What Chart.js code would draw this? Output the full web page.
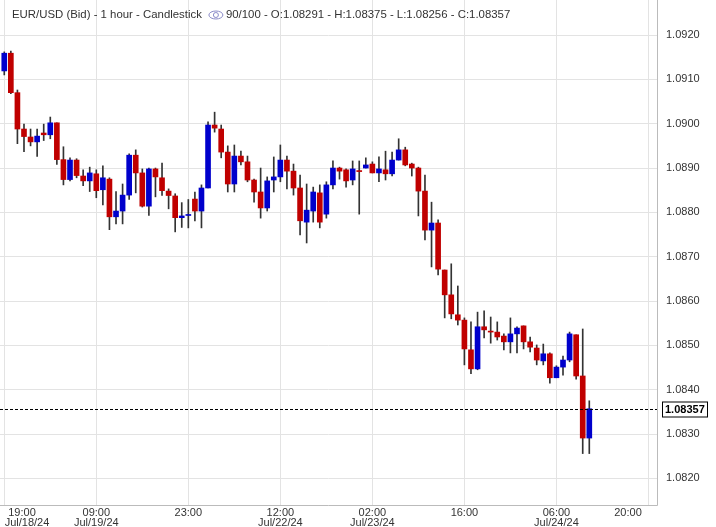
<!DOCTYPE html>
<html><head><meta charset="utf-8">
<script src="https://cdn.jsdelivr.net/npm/chart.js@4.4.1/dist/chart.umd.min.js"></script>
<style>html,body{margin:0;padding:0;background:#fff}#w{width:716px;height:527px}</style>
</head><body><div id="w"><canvas id="c"></canvas></div>
<script>
const openP=[1.09119,1.09159,1.09070,1.08988,1.08970,1.08959,1.08979,1.08975,1.09002,1.08919,1.08874,1.08918,1.08882,1.08871,1.08887,1.08851,1.08875,1.08790,1.08803,1.08839,1.08929,1.08889,1.08814,1.08898,1.08878,1.08848,1.08837,1.08788,1.08793,1.08830,1.08803,1.08855,1.08997,1.08988,1.08936,1.08864,1.08927,1.08914,1.08873,1.08846,1.08810,1.08873,1.08880,1.08918,1.08893,1.08855,1.08778,1.08803,1.08844,1.08796,1.08862,1.08900,1.08896,1.08873,1.08893,1.08900,1.08909,1.08889,1.08896,1.08887,1.08918,1.08941,1.08909,1.08900,1.08848,1.08760,1.08776,1.08670,1.08614,1.08569,1.08557,1.08490,1.08447,1.08542,1.08532,1.08530,1.08521,1.08508,1.08526,1.08544,1.08508,1.08494,1.08465,1.08481,1.08427,1.08451,1.08467,1.08524,1.08431,1.08291];
const highP=[1.09162,1.09164,1.09076,1.08999,1.08988,1.08988,1.08999,1.09015,1.09002,1.08948,1.08923,1.08921,1.08896,1.08902,1.08896,1.08905,1.08878,1.08847,1.08864,1.08932,1.08941,1.08898,1.08900,1.08900,1.08911,1.08853,1.08842,1.08822,1.08829,1.08846,1.08862,1.09004,1.09026,1.08997,1.08950,1.08952,1.08938,1.08927,1.08875,1.08900,1.08880,1.08925,1.08952,1.08927,1.08909,1.08884,1.08864,1.08857,1.08862,1.08869,1.08916,1.08902,1.08898,1.08916,1.08916,1.08923,1.08914,1.08925,1.08938,1.08936,1.08966,1.08947,1.08911,1.08902,1.08884,1.08823,1.08783,1.08670,1.08684,1.08634,1.08562,1.08553,1.08575,1.08578,1.08564,1.08553,1.08526,1.08562,1.08542,1.08544,1.08519,1.08501,1.08503,1.08483,1.08454,1.08476,1.08530,1.08524,1.08537,1.08375];
const lowP=[1.09110,1.09068,1.08955,1.08937,1.08950,1.08926,1.08962,1.08966,1.08908,1.08862,1.08871,1.08878,1.08860,1.08847,1.08833,1.08817,1.08761,1.08774,1.08774,1.08829,1.08844,1.08812,1.08793,1.08835,1.08838,1.08808,1.08756,1.08766,1.08765,1.08781,1.08765,1.08855,1.08981,1.08923,1.08846,1.08846,1.08907,1.08869,1.08823,1.08787,1.08803,1.08846,1.08869,1.08853,1.08839,1.08749,1.08731,1.08778,1.08765,1.08787,1.08853,1.08875,1.08857,1.08862,1.08796,1.08900,1.08889,1.08869,1.08873,1.08882,1.08918,1.08905,1.08882,1.08792,1.08738,1.08677,1.08659,1.08562,1.08560,1.08546,1.08456,1.08436,1.08445,1.08517,1.08505,1.08512,1.08490,1.08483,1.08483,1.08492,1.08485,1.08456,1.08456,1.08415,1.08427,1.08433,1.08463,1.08424,1.08256,1.08256];
const closeP=[1.09159,1.09070,1.08988,1.08971,1.08959,1.08972,1.08975,1.09002,1.08919,1.08874,1.08918,1.08883,1.08871,1.08889,1.08849,1.08878,1.08790,1.08803,1.08839,1.08929,1.08889,1.08814,1.08898,1.08880,1.08849,1.08838,1.08788,1.08792,1.08794,1.08803,1.08855,1.08997,1.08990,1.08936,1.08864,1.08927,1.08914,1.08873,1.08846,1.08810,1.08871,1.08880,1.08918,1.08893,1.08855,1.08781,1.08805,1.08846,1.08778,1.08862,1.08900,1.08893,1.08871,1.08898,1.08892,1.08907,1.08889,1.08898,1.08887,1.08918,1.08941,1.08907,1.08900,1.08848,1.08760,1.08776,1.08672,1.08614,1.08571,1.08557,1.08492,1.08447,1.08542,1.08535,1.08530,1.08519,1.08508,1.08526,1.08539,1.08508,1.08496,1.08467,1.08481,1.08427,1.08451,1.08467,1.08526,1.08431,1.08291,1.08357];
const tickIdx=[0,14,28,42,56,70,84,98];
const tickTime=["19:00","09:00","23:00","12:00","02:00","16:00","06:00","20:00"];
const tickDate=["Jul/18/24","Jul/19/24","","Jul/22/24","Jul/23/24","","Jul/24/24",""];
const lastPrice=1.08357;
const header="EUR/USD (Bid) - 1 hour - Candlestick";
const header2="90/100 - O:1.08291 - H:1.08375 - L:1.08256 - C:1.08357";

const UP='#0000cc',DN='#c00000';
const bodies=openP.map((o,i)=>({x:i,y:[o,closeP[i]]}));
const wicks=lowP.map((l,i)=>({x:i,y:[l,highP[i]]}));
const bodyCol=openP.map((o,i)=>closeP[i]>o?UP:(closeP[i]<o?DN:'#222'));
const FONT='Arial, "Liberation Sans"';

const overlay={id:'ov',afterDatasetsDraw(ch){
  const c=ch.ctx,a=ch.chartArea,y=ch.scales.y,x=ch.scales.x;
  const py=Math.round(y.getPixelForValue(lastPrice))+0.5;
  c.save();
  c.strokeStyle='#000';c.lineWidth=1;c.setLineDash([3,2]);
  c.beginPath();c.moveTo(a.left,py);c.lineTo(a.right,py);c.stroke();c.setLineDash([]);
  c.fillStyle='#fff';c.fillRect(a.right+5,py-8,46,16);
  c.strokeRect(a.right+5.5,py-7.5,45,15);
  c.fillStyle='#000';c.font='bold 11px '+FONT;c.textBaseline='middle';c.textAlign='left';
  c.fillText(lastPrice.toFixed(5),a.right+8,py+0.5);
  c.strokeStyle='#bbb';c.beginPath();c.moveTo(a.right+0.5,0);c.lineTo(a.right+0.5,a.bottom+0.5);c.lineTo(0,a.bottom+0.5);c.stroke();
  c.fillStyle='#333';c.font='11px '+FONT;c.textAlign='center';c.textBaseline='top';
  tickIdx.forEach((t,i)=>{let px=x.getPixelForValue(t);
    c.fillText(tickTime[i],Math.min(628,Math.max(22,px)),a.bottom+2);
    if(tickDate[i])c.fillText(tickDate[i],Math.max(27,px),a.bottom+12);});
  c.font='11.4px '+FONT;c.textAlign='left';c.textBaseline='middle';c.fillStyle='#333';
  c.fillText(header,12,15);
  const w=c.measureText(header).width;const ex=12+w+14;
  c.strokeStyle='#8a8ac8';c.lineWidth=1;
  c.beginPath();c.ellipse(ex,15,7,4,0,0,Math.PI*2);c.stroke();
  c.beginPath();c.arc(ex,15,2.5,0,Math.PI*2);c.stroke();
  c.fillText(header2,ex+10,15);
  c.restore();
}};

new Chart(document.getElementById('c'),{
  type:'bar',
  data:{datasets:[
    {data:wicks,backgroundColor:'#333',barThickness:1,order:2,grouped:false},
    {data:bodies,backgroundColor:bodyCol,barThickness:5,minBarLength:1,order:1,grouped:false}
  ]},
  options:{responsive:true,maintainAspectRatio:false,animation:false,
    layout:{padding:0},
    plugins:{legend:{display:false},tooltip:{enabled:false}},
    scales:{
      x:{type:'linear',min:-0.65,max:99.3,offset:false,
        afterBuildTicks(s){s.ticks=tickIdx.map(v=>({value:v}));},
        afterFit(s){s.height=22;s.paddingLeft=0;s.paddingRight=0;},
        grid:{color:'#e3e3e3',drawTicks:false,offset:false},border:{display:false},
        ticks:{display:false}},
      y:{position:'right',min:1.0814,max:1.09279,
        afterBuildTicks(s){const t=[];for(let v=1.0820;v<=1.0925;v+=0.001)t.push({value:+v.toFixed(4)});s.ticks=t;},
        afterFit(s){s.width=59;s.paddingTop=0;s.paddingBottom=0;},
        grid:{color:'#e3e3e3',drawTicks:false},border:{display:false},
        ticks:{padding:9,color:'#333',font:{family:FONT,size:11},callback:v=>v.toFixed(4)}}
    }},
  plugins:[overlay]
});
</script></body></html>
